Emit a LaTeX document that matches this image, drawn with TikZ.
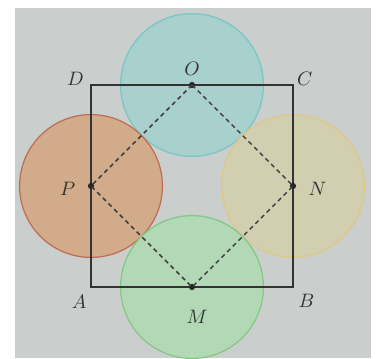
\documentclass[tikz,border=0pt]{standalone}
\usepackage{amsmath}
\usepackage{tikz}
\usetikzlibrary{positioning}

\definecolor{bggray}{RGB}{202,207,206}
\definecolor{tealfill}{RGB}{168,208,205}
\definecolor{tealline}{RGB}{120,198,198}
\definecolor{orangefill}{RGB}{210,172,138}
\definecolor{orangeline}{RGB}{190,110,85}
\definecolor{yellowfill}{RGB}{210,206,176}
\definecolor{yellowline}{RGB}{222,200,132}
\definecolor{greenfill}{RGB}{178,216,182}
\definecolor{greenline}{RGB}{132,200,132}

\begin{document}
\begin{tikzpicture}[
        font=\fontsize{11}{13}\selectfont,
        disc/.style={
            line width=0.7pt
        },
        square/.style={
            line width=0.7pt,
            draw=black!80
        },
        diag/.style={
            line width=0.8pt,
            draw=black!75,
            dash pattern=on 2.5pt off 2pt
        },
        dot/.style={
            circle,
            fill=black!85,
            inner sep=0pt,
            minimum size=3.5pt
        },
        lbl/.style={
            inner sep=1pt,
            text=black!80
        }
    ]

    % frame
    \useasboundingbox (-1.802,-1.406) rectangle (5.663,5.683);
    \fill[bggray] (-1.505,-1.406) rectangle (5.544,5.524);

    % corners and midpoints
    \coordinate (A) at (0,0);
    \coordinate (B) at (4,0);
    \coordinate (C) at (4,4);
    \coordinate (D) at (0,4);
    \coordinate (cM) at (2,0);
    \coordinate (cN) at (4,2);
    \coordinate (cO) at (2,4);
    \coordinate (cP) at (0,2);

    % circles
    \filldraw[disc, fill=tealfill, draw=tealline] (cO) circle (1.414);
    \filldraw[disc, fill=orangefill, draw=orangeline] (cP) circle (1.414);
    \filldraw[disc, fill=yellowfill, draw=yellowline] (cN) circle (1.414);
    \filldraw[disc, fill=greenfill, draw=greenline] (cM) circle (1.414);

    \draw[square] (A) -- (B) -- (C) -- (D) -- cycle;

    \node[dot] (M) at (cM) {};
    \node[dot] (N) at (cN) {};
    \node[dot] (O) at (cO) {};
    \node[dot] (P) at (cP) {};

    \draw[diag] (O.center) -- (N.center) -- (M.center) -- (P.center) -- cycle;

    % labels
    \node[lbl, below left=1.2mm and 0.5mm of A] (labA) {$A$};
    \node[lbl, below right=1mm and 0.7mm of B] (labB) {$B$};
    \node[lbl, above right=-0.5mm and 0.4mm of C] (labC) {$C$};
    \node[lbl, above left=-0.5mm and 1mm of D] (labD) {$D$};
    \node[lbl, below=3.5mm of M, xshift=1mm] (labM) {$M$};
    \node[lbl, right=2mm of N, yshift=-0.6mm] (labN) {$N$};
    \node[lbl, above=0.8mm of O] (labO) {$O$};
    \node[lbl, left=2mm of P, yshift=-0.5mm] (labP) {$P$};

\end{tikzpicture}
\end{document}
